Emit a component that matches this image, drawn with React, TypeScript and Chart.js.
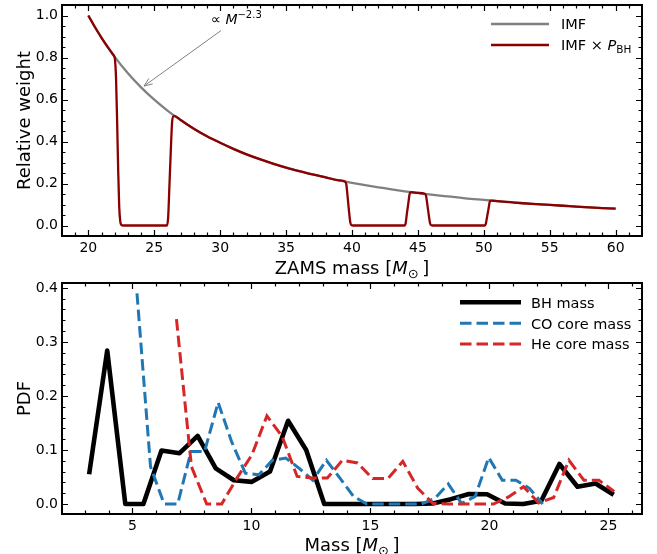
import React, { useEffect, useRef } from 'react';
import { Chart, registerables } from 'chart.js';

Chart.register(...registerables);

const F = '"DejaVu Sans", "Liberation Sans", sans-serif';

// ---------- top panel data ----------
const imfMass = [20, 21, 22, 23, 24, 25, 26, 27, 28, 29, 30, 31, 32, 33, 34, 35, 36, 37, 38, 39, 40, 41, 42, 43, 44, 45, 46, 47, 48, 49, 50, 51, 52, 53, 54, 55, 56, 57, 58, 59, 60];
const imfWeight = [1.0, 0.894, 0.803, 0.725, 0.658, 0.599, 0.547, 0.502, 0.461, 0.425, 0.394, 0.365, 0.339, 0.316, 0.295, 0.276, 0.259, 0.243, 0.229, 0.215, 0.203, 0.192, 0.182, 0.172, 0.163, 0.155, 0.147, 0.14, 0.134, 0.127, 0.122, 0.116, 0.111, 0.106, 0.102, 0.098, 0.094, 0.09, 0.086, 0.083, 0.08];

const imfPbhMass = [20, 20.5, 21, 21.5, 21.7, 21.85, 21.95, 22.02, 22.1, 22.18, 22.26, 22.34, 22.42, 22.5, 22.6, 25.95, 26.05, 26.15, 26.25, 26.35, 26.45, 26.55, 27, 28, 29, 30, 31, 32, 33, 34, 35, 36, 37, 38, 39, 39.47, 39.57, 39.67, 39.77, 39.87, 39.97, 40.07, 43.97, 44.07, 44.17, 44.27, 44.37, 44.47, 45, 45.52, 45.62, 45.72, 45.82, 45.92, 46.02, 46.12, 50.05, 50.15, 50.25, 50.35, 50.45, 50.55, 51, 52, 53, 54, 55, 56, 57, 58, 59, 60];
const imfPbhWeight = [1.0, 0.944, 0.894, 0.847, 0.829, 0.816, 0.807, 0.79, 0.7, 0.5, 0.27, 0.09, 0.02, 0.003, 0.0, 0.0, 0.035, 0.19, 0.35, 0.49, 0.52, 0.521, 0.502, 0.461, 0.425, 0.394, 0.365, 0.339, 0.316, 0.295, 0.276, 0.259, 0.243, 0.229, 0.215, 0.209, 0.195, 0.135, 0.07, 0.015, 0.001, 0.0, 0.0, 0.011, 0.06, 0.105, 0.15, 0.159, 0.155, 0.151, 0.14, 0.098, 0.052, 0.011, 0.001, 0.0, 0.0, 0.008, 0.042, 0.077, 0.112, 0.118, 0.116, 0.111, 0.106, 0.102, 0.098, 0.094, 0.09, 0.086, 0.083, 0.08];

const topXTicks = [20, 25, 30, 35, 40, 45, 50, 55, 60];
const topYTicks = [0.0, 0.2, 0.4, 0.6, 0.8, 1.0];

// ---------- bottom panel data ----------
const bhMassX = [3.18, 3.94, 4.70, 5.46, 6.22, 6.98, 7.74, 8.50, 9.26, 10.02, 10.78, 11.54, 12.30, 13.06, 13.82, 14.58, 15.34, 16.10, 16.86, 17.62, 18.38, 19.14, 19.90, 20.66, 21.42, 22.18, 22.94, 23.70, 24.46, 25.22];
const bhPdf = [0.055, 0.284, 0.0, 0.0, 0.099, 0.094, 0.126, 0.066, 0.044, 0.041, 0.06, 0.154, 0.1, 0.0, 0.0, 0.0, 0.0, 0.0, 0.0, 0.001, 0.009, 0.0185, 0.018, 0.001, 0.0, 0.006, 0.074, 0.032, 0.038, 0.017];

const coMassX = [5.19, 5.76, 6.33, 6.90, 7.46, 8.03, 8.60, 9.17, 9.74, 10.31, 10.88, 11.44, 12.01, 12.58, 13.15, 13.72, 14.29, 14.85, 15.42, 15.99, 16.56, 17.13, 17.70, 18.27, 18.83, 19.40, 19.97, 20.54, 21.11, 21.68, 22.24];
const coPdf = [0.39, 0.069, 0.0, 0.0, 0.097, 0.097, 0.188, 0.115, 0.057, 0.054, 0.081, 0.085, 0.066, 0.044, 0.081, 0.048, 0.014, 0.0, 0.0, 0.0, 0.0, 0.0, 0.01, 0.037, 0.001, 0.014, 0.086, 0.044, 0.044, 0.029, 0.0];

const heMassX = [6.85, 7.48, 8.12, 8.75, 9.39, 10.02, 10.65, 11.29, 11.92, 12.56, 13.19, 13.82, 14.46, 15.09, 15.73, 16.36, 16.99, 17.63, 18.26, 18.90, 19.53, 20.17, 20.80, 21.43, 22.07, 22.70, 23.34, 23.97, 24.60, 25.24];
const hePdf = [0.342, 0.069, 0.0, 0.0, 0.048, 0.091, 0.163, 0.125, 0.051, 0.048, 0.048, 0.081, 0.076, 0.047, 0.047, 0.079, 0.029, 0.001, 0.0, 0.0, 0.0, 0.0, 0.013, 0.032, 0.002, 0.012, 0.081, 0.044, 0.044, 0.023];

const bottomXTicks = [5, 10, 15, 20, 25];
const bottomYTicks = [0.0, 0.1, 0.2, 0.3, 0.4];

const GRAY = '#808080';
const DARKRED = '#8b0000';
const BLUE = '#1f77b4';
const RED = '#d62728';

const zip = (xs: number[], ys: number[]) => xs.map((x, i) => ({ x, y: ys[i] }));

type Run = { t: string; font: string; dy?: number };
function drawRuns(ctx: CanvasRenderingContext2D, x: number, y: number, runs: Run[], align: 'left' | 'center') {
  let total = 0;
  const widths = runs.map((r) => {
    ctx.font = r.font;
    const w = ctx.measureText(r.t).width;
    total += w;
    return w;
  });
  let cx = align === 'center' ? x - total / 2 : x;
  ctx.textAlign = 'left';
  ctx.textBaseline = 'alphabetic';
  ctx.fillStyle = '#000';
  runs.forEach((r, i) => {
    ctx.font = r.font;
    ctx.fillText(r.t, cx, y + (r.dy || 0));
    cx += widths[i];
  });
}

function line(ctx: CanvasRenderingContext2D, x1: number, y1: number, x2: number, y2: number) {
  ctx.beginPath();
  ctx.moveTo(x1, y1);
  ctx.lineTo(x2, y2);
  ctx.stroke();
}

function makeFramePlugin(xMajor: number[], xMinorStep: number, yMajor: number[], yMinorStep: number) {
  return {
    id: 'frameTicks',
    afterDatasetsDraw(chart: any) {
      const { ctx, chartArea: a } = chart;
      const sx = chart.scales.x;
      const sy = chart.scales.y;
      ctx.save();
      ctx.strokeStyle = '#000';
      ctx.lineWidth = 1.2;
      ctx.beginPath();
      const vTick = (v: number, len: number) => {
        const p = Math.round(sx.getPixelForValue(v)) + 0.5;
        if (p < a.left + 1 || p > a.right - 1) return;
        ctx.moveTo(p, a.bottom);
        ctx.lineTo(p, a.bottom - len);
        ctx.moveTo(p, a.top);
        ctx.lineTo(p, a.top + len);
      };
      const hTick = (v: number, len: number) => {
        const p = Math.round(sy.getPixelForValue(v)) + 0.5;
        if (p < a.top + 1 || p > a.bottom - 1) return;
        ctx.moveTo(a.left, p);
        ctx.lineTo(a.left + len, p);
        ctx.moveTo(a.right, p);
        ctx.lineTo(a.right - len, p);
      };
      const xi0 = Math.ceil(sx.min / xMinorStep - 1e-9);
      const xi1 = Math.floor(sx.max / xMinorStep + 1e-9);
      for (let i = xi0; i <= xi1; i++) vTick(i * xMinorStep, 3.5);
      xMajor.forEach((v) => vTick(v, 6));
      const yi0 = Math.ceil(sy.min / yMinorStep - 1e-9);
      const yi1 = Math.floor(sy.max / yMinorStep + 1e-9);
      for (let i = yi0; i <= yi1; i++) hTick(i * yMinorStep, 3.5);
      yMajor.forEach((v) => hTick(v, 6));
      ctx.stroke();
      ctx.lineWidth = 2;
      ctx.strokeRect(a.left, a.top, a.right - a.left, a.bottom - a.top);
      ctx.restore();
    },
  };
}

function axisOptions(min: number, max: number, ticks: number[], isX: boolean, size: number, digits: number) {
  return {
    type: 'linear',
    min,
    max,
    afterBuildTicks: (s: any) => {
      s.ticks = ticks.map((v) => ({ value: v }));
    },
    afterFit: (s: any) => {
      if (isX) {
        s.height = size;
        s.paddingLeft = 0;
        s.paddingRight = 0;
      } else {
        s.width = size;
        s.paddingTop = 0;
        s.paddingBottom = 0;
      }
    },
    ticks: {
      font: { family: F, size: 14 },
      color: '#000',
      padding: 4,
      maxRotation: 0,
      autoSkip: false,
      callback: (v: number) => Number(v).toFixed(digits),
    },
    grid: { display: false, drawTicks: false },
    border: { display: false },
  };
}

const LEG = `14.5px ${F}`;
const LEG_I = `italic 14.5px ${F}`;
const LEG_S = `10.5px ${F}`;
const TITLE = `18px ${F}`;
const TITLE_I = `italic 18px ${F}`;
const TITLE_S = `13px ${F}`;

function yTitle(ctx: CanvasRenderingContext2D, text: string, x: number, y: number) {
  ctx.save();
  ctx.translate(x, y);
  ctx.rotate(-Math.PI / 2);
  ctx.font = TITLE;
  ctx.fillStyle = '#000';
  ctx.textAlign = 'center';
  ctx.textBaseline = 'middle';
  ctx.fillText(text, 0, 0);
  ctx.restore();
}

const topDecor = {
  id: 'topDecor',
  afterDraw(chart: any) {
    const { ctx, chartArea: a } = chart;
    const sx = chart.scales.x;
    const sy = chart.scales.y;
    ctx.save();
    // legend
    ctx.lineWidth = 2.3;
    ctx.strokeStyle = GRAY;
    line(ctx, 491, 24, 549, 24);
    ctx.strokeStyle = DARKRED;
    line(ctx, 491, 45, 549, 45);
    drawRuns(ctx, 561, 29, [{ t: 'IMF', font: LEG }], 'left');
    drawRuns(ctx, 561, 50, [
      { t: 'IMF \u00d7 ', font: LEG },
      { t: 'P', font: LEG_I },
      { t: 'BH', font: LEG_S, dy: 3 },
    ], 'left');
    // annotation
    const tx = sx.getPixelForValue(29.3);
    const ty = sy.getPixelForValue(0.96);
    drawRuns(ctx, tx, ty, [
      { t: '\u221d ', font: `14px ${F}` },
      { t: 'M', font: `italic 14px ${F}` },
      { t: '\u22122.3', font: `10px ${F}`, dy: -6 },
    ], 'left');
    const x0 = sx.getPixelForValue(30.06);
    const y0 = sy.getPixelForValue(0.928);
    const x1 = sx.getPixelForValue(24.22);
    const y1 = sy.getPixelForValue(0.664);
    ctx.strokeStyle = GRAY;
    ctx.lineWidth = 1;
    line(ctx, x0, y0, x1, y1);
    const ang = Math.atan2(y0 - y1, x0 - x1);
    const hl = 9;
    const hw = 0.38;
    line(ctx, x1, y1, x1 + hl * Math.cos(ang + hw), y1 + hl * Math.sin(ang + hw));
    line(ctx, x1, y1, x1 + hl * Math.cos(ang - hw), y1 + hl * Math.sin(ang - hw));
    // axis titles
    const cx = (a.left + a.right) / 2;
    drawRuns(ctx, cx, 274, [
      { t: 'ZAMS mass [', font: TITLE },
      { t: 'M', font: TITLE_I },
      { t: '\u2299', font: TITLE_S, dy: 4 },
      { t: '\u2009]', font: TITLE },
    ], 'center');
    yTitle(ctx, 'Relative weight', 25, (a.top + a.bottom) / 2);
    ctx.restore();
  },
};

const bottomDecor = {
  id: 'bottomDecor',
  afterDraw(chart: any) {
    const { ctx, chartArea: a } = chart;
    ctx.save();
    ctx.lineCap = 'butt';
    ctx.lineWidth = 4.6;
    ctx.strokeStyle = '#000';
    line(ctx, 460, 22.3, 521, 22.3);
    ctx.lineWidth = 3;
    ctx.setLineDash([11.5, 5]);
    ctx.strokeStyle = BLUE;
    line(ctx, 460, 43.3, 521, 43.3);
    ctx.strokeStyle = RED;
    line(ctx, 460, 64, 521, 64);
    ctx.setLineDash([]);
    drawRuns(ctx, 531, 27.5, [{ t: 'BH mass', font: LEG }], 'left');
    drawRuns(ctx, 531, 48.5, [{ t: 'CO core mass', font: LEG }], 'left');
    drawRuns(ctx, 531, 69.2, [{ t: 'He core mass', font: LEG }], 'left');
    const cx = (a.left + a.right) / 2;
    drawRuns(ctx, cx, 271, [
      { t: 'Mass [', font: TITLE },
      { t: 'M', font: TITLE_I },
      { t: '\u2299', font: TITLE_S, dy: 4 },
      { t: '\u2009]', font: TITLE },
    ], 'center');
    yTitle(ctx, 'PDF', 25, (a.top + a.bottom) / 2);
    ctx.restore();
  },
};

function TopChart() {
  const ref = useRef<HTMLCanvasElement | null>(null);
  useEffect(() => {
    if (!ref.current) return;
    const chart = new Chart(ref.current, {
      type: 'line',
      data: {
        datasets: [
          {
            label: 'IMF × P_BH',
            data: zip(imfPbhMass, imfPbhWeight),
            borderColor: DARKRED,
            borderWidth: 2.3,
            pointRadius: 0,
            cubicInterpolationMode: 'monotone',
            borderJoinStyle: 'round',
            order: 1,
          },
          {
            label: 'IMF',
            data: zip(imfMass, imfWeight),
            borderColor: GRAY,
            borderWidth: 2.3,
            pointRadius: 0,
            cubicInterpolationMode: 'monotone',
            order: 2,
          },
        ],
      },
      options: {
        animation: false,
        responsive: false,
        devicePixelRatio: 1,
        layout: { padding: { top: 5, right: 15, left: 0, bottom: 0 } },
        plugins: { legend: { display: false }, tooltip: { enabled: false } },
        scales: {
          x: axisOptions(18, 62, topXTicks, true, 44, 0),
          y: axisOptions(-0.05, 1.05, topYTicks, false, 62, 1),
        },
      } as any,
      plugins: [makeFramePlugin(topXTicks, 1, topYTicks, 0.05), topDecor],
    } as any);
    return () => chart.destroy();
  }, []);
  return (
    <canvas
      ref={ref}
      width={657}
      height={280}
      style={{ position: 'absolute', left: 0, top: 0, width: 657, height: 280, display: 'block' }}
    />
  );
}

function BottomChart() {
  const ref = useRef<HTMLCanvasElement | null>(null);
  useEffect(() => {
    if (!ref.current) return;
    const dash = [11.5, 5];
    const chart = new Chart(ref.current, {
      type: 'line',
      data: {
        datasets: [
          {
            label: 'He core mass',
            data: zip(heMassX, hePdf),
            borderColor: RED,
            borderWidth: 3,
            borderDash: dash,
            borderCapStyle: 'butt',
            pointRadius: 0,
            tension: 0,
            order: 1,
          },
          {
            label: 'CO core mass',
            data: zip(coMassX, coPdf),
            borderColor: BLUE,
            borderWidth: 3,
            borderDash: dash,
            borderCapStyle: 'butt',
            pointRadius: 0,
            tension: 0,
            order: 2,
          },
          {
            label: 'BH mass',
            data: zip(bhMassX, bhPdf),
            borderColor: '#000',
            borderWidth: 4.6,
            borderJoinStyle: 'round',
            pointRadius: 0,
            tension: 0,
            order: 3,
          },
        ],
      },
      options: {
        animation: false,
        responsive: false,
        devicePixelRatio: 1,
        layout: { padding: { top: 3, right: 15, left: 0, bottom: 0 } },
        plugins: { legend: { display: false }, tooltip: { enabled: false } },
        scales: {
          x: axisOptions(2.04, 26.41, bottomXTicks, true, 40, 0),
          y: axisOptions(-0.0185, 0.409, bottomYTicks, false, 62, 1),
        },
      } as any,
      plugins: [makeFramePlugin(bottomXTicks, 1, bottomYTicks, 0.02), bottomDecor],
    } as any);
    return () => chart.destroy();
  }, []);
  return (
    <canvas
      ref={ref}
      width={657}
      height={274}
      style={{ position: 'absolute', left: 0, top: 280, width: 657, height: 274, display: 'block' }}
    />
  );
}

export default function App() {
  return (
    <div style={{ position: 'absolute', left: 0, top: 0, width: 657, height: 554, background: '#fff' }}>
      <TopChart />
      <BottomChart />
    </div>
  );
}
